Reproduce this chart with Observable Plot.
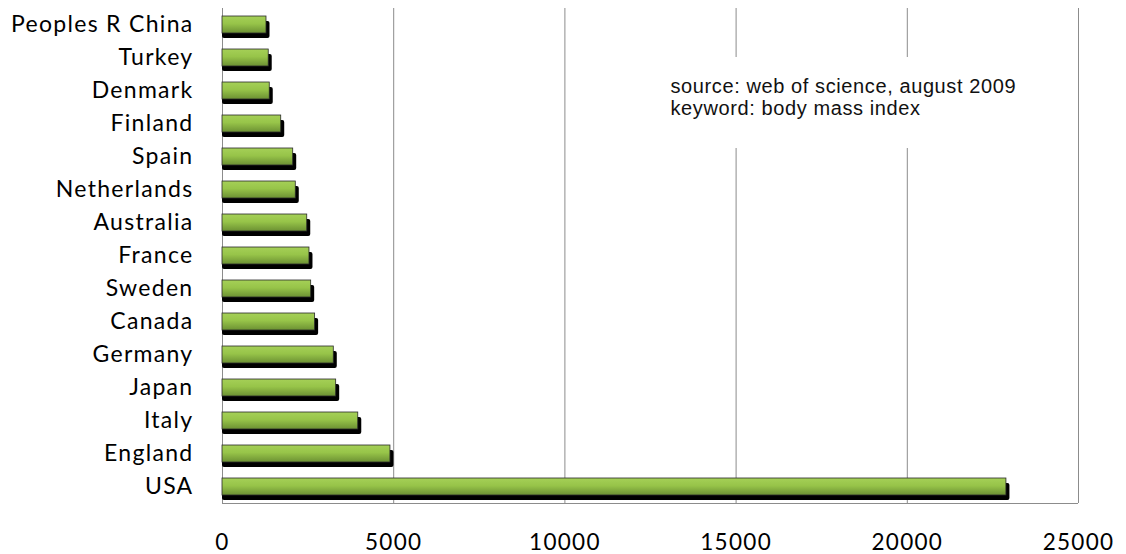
<!DOCTYPE html>
<html>
<head>
<meta charset="utf-8">
<script src="https://cdn.jsdelivr.net/npm/d3@7"></script>
<script src="https://cdn.jsdelivr.net/npm/@observablehq/plot@0.6"></script>
<style>
  html, body { margin: 0; padding: 0; background: #fff; }
  #chart svg { display: block; }
</style>
</head>
<body>
<div id="chart"></div>
<script>
// Publications per country, keyword "body mass index"
const countries = [
  "Peoples R China", "Turkey", "Denmark", "Finland", "Spain", "Netherlands",
  "Australia", "France", "Sweden", "Canada", "Germany", "Japan", "Italy",
  "England", "USA"
];
const records = [
  1285, 1350, 1380, 1715, 2065, 2140,
  2475, 2540, 2590, 2705, 3250, 3320, 3965,
  4905, 22895
];
const xTicks = [0, 5000, 10000, 15000, 20000, 25000];
const noteLines = ["source: web of science, august 2009", "keyword: body mass index"];

const data = countries.map((country, i) => ({country, records: records[i]}));

// Gradient definition, bottom frame line and the white panel behind the note
function decorations(index, scales, values, dimensions) {
  const {width, height, marginLeft, marginRight, marginTop, marginBottom} = dimensions;
  const g = d3.create("svg:g");
  const grad = g.append("defs").append("linearGradient")
    .attr("id", "bar-gradient")
    .attr("x1", 0).attr("y1", 0).attr("x2", 0).attr("y2", 1);
  grad.append("stop").attr("offset", "0%").attr("stop-color", "#a5d057");
  grad.append("stop").attr("offset", "45%").attr("stop-color", "#97c449");
  grad.append("stop").attr("offset", "100%").attr("stop-color", "#6c9133");
  g.append("line")
    .attr("x1", marginLeft).attr("x2", width - marginRight)
    .attr("y1", height - marginBottom + 0.5).attr("y2", height - marginBottom + 0.5)
    .attr("stroke", "#8c8c8c");
  g.append("rect")
    .attr("x", scales.x(12600))
    .attr("y", marginTop + 49)
    .attr("width", scales.x(24200) - scales.x(12600))
    .attr("height", 91)
    .attr("fill", "#fff");
  return g.node();
}

const chart = Plot.plot({
  width: 1126,
  height: 554,
  marginLeft: 222,
  marginRight: 48,
  marginTop: 8,
  marginBottom: 51,
  style: {fontFamily: "Lato, sans-serif", fontSize: "23px", color: "#000", background: "#fff", letterSpacing: "1.3px"},
  x: {domain: [0, 25000], ticks: xTicks, tickFormat: d => String(d), label: null},
  y: {domain: countries, paddingInner: 0.5, paddingOuter: 0.25, label: null},
  marks: [
    // vertical grid lines (0 doubles as the left axis line)
    Plot.ruleX(xTicks, {stroke: "#8c8c8c", strokeWidth: 1, strokeOpacity: 1}),
    decorations,
    // drop shadow
    Plot.barX(data, {x: "records", y: "country", fill: "#000", insetLeft: -3.5, dx: 3.5, dy: 5, rx: 2}),
    // bars
    Plot.barX(data, {x: "records", y: "country", fill: "url(#bar-gradient)", stroke: "#2a2a2a", strokeWidth: 0.8}),
    Plot.axisY({tickSize: 0, tickPadding: 29, fontSize: 23, label: null}),
    Plot.axisX({ticks: xTicks, tickSize: 0, tickPadding: 31, fontSize: 22.5, tickFormat: d => String(d), label: null}),
    Plot.text([noteLines.join("\n")], {
      frameAnchor: "top-left", dx: 448, dy: 69.5, lineAnchor: "top", textAnchor: "start",
      fontFamily: "Liberation Sans, Arial, sans-serif", fontSize: 20, lineHeight: 1.08, fill: "#111"
    })
  ]
});

// the note uses tighter tracking than the axis labels
d3.select(chart).selectAll('g[aria-label="text"]').style("letter-spacing", "0.6px");

document.getElementById("chart").appendChild(chart);
</script>
</body>
</html>
